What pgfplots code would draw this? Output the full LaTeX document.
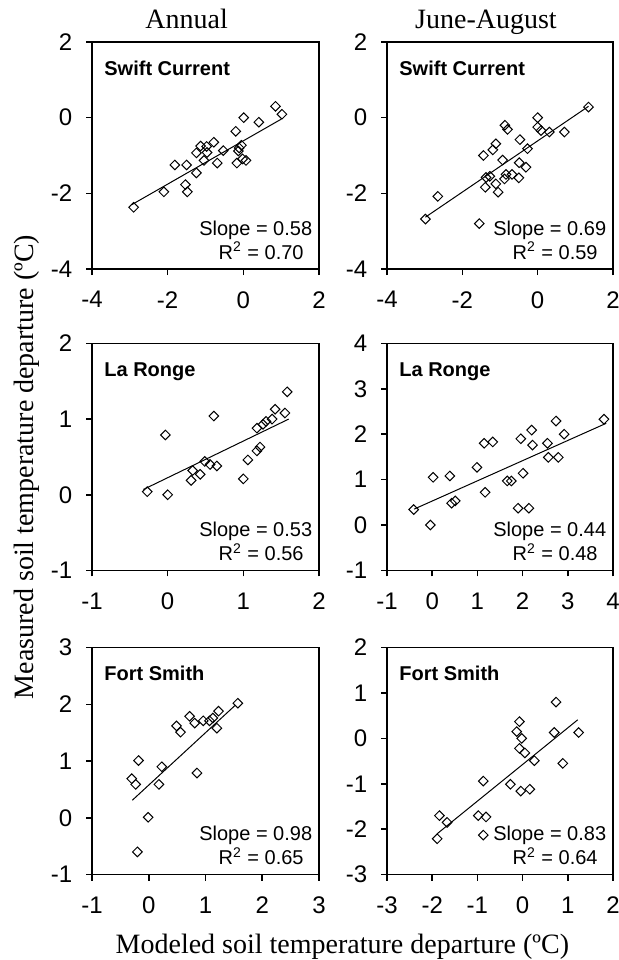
\documentclass[border=0pt]{standalone}
\usepackage{fontspec}
\setmainfont{Liberation Serif}
\newfontfamily\arial{Liberation Sans}
\usepackage{pgfplots}
\pgfplotsset{compat=1.18}
\pgfplotsset{
 panel/.style={scale only axis, height=113.5pt,
   axis line style={line width=0.8pt}, tick align=outside, major tick length=3pt,
   tick style={line width=0.8pt,black}, xtick pos=bottom, ytick pos=left,
   tick label style={font=\arial\fontsize{12}{14}\selectfont},
   /pgf/number format/assume math mode=true,
   yticklabel style={xshift=-3.3pt}, xticklabel style={yshift=-4.6pt}, clip=false},
 pts/.style={only marks, mark=square, mark size=1.7pt, mark options={rotate=45, line width=0.5pt, black, fill=none}},
 fitline/.style={no marks, line width=0.5pt, black},
}
\newcommand\site[1]{\node[inner sep=0pt, anchor=base west, xshift=6pt, yshift=-16.5pt, font=\arial\bfseries\fontsize{10}{12}\selectfont] at (rel axis cs:0,1) {#1};}
\newcommand\stats[2]{\node[inner sep=0pt, anchor=base east, xshift=-3.2pt, yshift=17pt, font=\arial\fontsize{10}{12}\selectfont] at (rel axis cs:1,0) {Slope = #1};
 \node[inner sep=0pt, anchor=base east, xshift=-7.5pt, yshift=5pt, font=\arial\fontsize{10}{12}\selectfont] at (rel axis cs:1,0) {R\textsuperscript{2} = #2};}
\begin{document}
\begin{tikzpicture}
\path[use as bounding box] (0,0) rectangle (309.5pt,-480pt);
% Row 1
\begin{axis}[panel, width=113.5pt, at={(46pt,-21pt)}, anchor=north west,
  xmin=-4, xmax=2, ymin=-4, ymax=2, xtick={-4,-2,0,2}, ytick={-4,-2,0,2}]
\addplot[pts] coordinates {(-2.90,-2.37) (-2.10,-1.96) (-1.81,-1.25) (-1.50,-1.25) (-1.53,-1.77) (-1.48,-1.96) (-1.24,-1.46) (-1.24,-0.93) (-1.13,-0.75) (-1.04,-1.13) (-0.96,-0.92) (-0.97,-0.76) (-0.78,-0.65) (-0.69,-1.20) (-0.53,-0.87) (-0.20,-0.36) (-0.17,-1.20) (-0.13,-0.88) (-0.11,-0.80) (-0.05,-0.73) (-0.02,-1.09) (0.07,-1.13) (0.01,0.00) (0.41,-0.12) (0.85,0.30) (1.02,0.09)};
\addplot[fitline] coordinates {(-2.95,-2.30) (1.00,-0.04)};
\site{Swift Current}
\stats{0.58}{0.70}
\end{axis}
\begin{axis}[panel, width=113pt, at={(193.5pt,-21pt)}, anchor=north west,
  xmin=-4, xmax=2, ymin=-4, ymax=2, xtick={-4,-2,0,2}, ytick={-4,-2,0,2}]
\addplot[pts] coordinates {(-2.98,-2.68) (-2.65,-2.08) (-1.55,-2.80) (-1.44,-1.00) (-1.37,-1.58) (-1.39,-1.84) (-1.19,-0.85) (-1.11,-0.69) (-1.27,-1.55) (-1.11,-1.75) (-1.05,-1.97) (-0.88,-1.62) (-0.84,-1.50) (-0.93,-1.12) (-0.87,-0.20) (-0.80,-0.31) (-0.68,-1.50) (-0.50,-1.59) (-0.49,-1.19) (-0.47,-0.58) (-0.31,-1.31) (-0.27,-0.82) (0.00,0.00) (0.00,-0.25) (0.09,-0.34) (0.31,-0.38) (0.71,-0.38) (1.35,0.28)};
\addplot[fitline] coordinates {(-2.98,-2.63) (1.35,0.30)};
\site{Swift Current}
\stats{0.69}{0.59}
\end{axis}
% Row 2
\begin{axis}[panel, width=113.5pt, at={(46pt,-171.7pt)}, anchor=north west,
  xmin=-1, xmax=2, ymin=-1, ymax=2, xtick={-1,0,1,2}, ytick={-1,0,1,2}]
\addplot[pts] coordinates {(-0.27,0.04) (-0.03,0.79) (0.00,0.00) (0.31,0.19) (0.33,0.32) (0.43,0.27) (0.49,0.44) (0.56,0.40) (0.65,0.38) (0.61,1.04) (1.00,0.21) (1.06,0.46) (1.18,0.58) (1.22,0.63) (1.18,0.88) (1.26,0.93) (1.30,0.97) (1.38,1.00) (1.42,1.13) (1.55,1.08) (1.58,1.36)};
\addplot[fitline] coordinates {(-0.32,0.07) (1.60,1.00)};
\site{La Ronge}
\stats{0.53}{0.56}
\end{axis}
\begin{axis}[panel, width=113pt, at={(193.5pt,-171.7pt)}, anchor=north west,
  xmin=-1, xmax=4, ymin=-1, ymax=4, xtick={-1,0,1,2,3,4}, ytick={-1,0,1,2,3,4}]
\addplot[pts] coordinates {(-0.41,0.34) (-0.04,0.00) (0.02,1.05) (0.39,1.08) (0.43,0.48) (0.51,0.53) (0.99,1.27) (1.17,0.72) (1.15,1.80) (1.34,1.83) (1.66,0.97) (1.75,0.97) (1.90,0.37) (2.14,0.37) (1.96,1.90) (2.01,1.14) (2.20,2.09) (2.22,1.76) (2.55,1.80) (2.57,1.49) (2.74,2.29) (2.79,1.49) (2.92,2.00) (3.80,2.33)};
\addplot[fitline] coordinates {(-0.40,0.35) (3.85,2.24)};
\site{La Ronge}
\stats{0.44}{0.48}
\end{axis}
% Row 3
\begin{axis}[panel, width=113.5pt, at={(46pt,-323.8pt)}, anchor=north west,
  xmin=-1, xmax=3, ymin=-1, ymax=3, xtick={-1,0,1,2,3}, ytick={-1,0,1,2,3}]
\addplot[pts] coordinates {(-0.30,0.69) (-0.23,0.59) (-0.18,1.01) (-0.20,-0.60) (-0.01,0.01) (0.18,0.59) (0.23,0.90) (0.49,1.62) (0.56,1.51) (0.72,1.79) (0.81,1.67) (0.85,0.79) (0.96,1.71) (1.07,1.71) (1.13,1.76) (1.20,1.58) (1.23,1.88) (1.57,2.02)};
\addplot[fitline] coordinates {(-0.29,0.31) (1.52,1.98)};
\site{Fort Smith}
\stats{0.98}{0.65}
\end{axis}
\begin{axis}[panel, width=113pt, at={(193.5pt,-323.8pt)}, anchor=north west,
  xmin=-3, xmax=2, ymin=-3, ymax=2, xtick={-3,-2,-1,0,1,2}, ytick={-3,-2,-1,0,1,2}]
\addplot[pts] coordinates {(-1.89,-2.21) (-1.84,-1.70) (-1.67,-1.85) (-0.98,-1.70) (-0.87,-0.94) (-0.87,-2.13) (-0.81,-1.73) (-0.27,-1.01) (-0.13,0.15) (-0.07,0.37) (-0.04,-1.16) (-0.02,0.00) (-0.07,-0.22) (0.05,-0.32) (0.16,-1.12) (0.26,-0.49) (0.70,0.13) (0.74,0.80) (0.89,-0.55) (1.24,0.13)};
\addplot[fitline] coordinates {(-1.89,-2.10) (1.22,0.41)};
\site{Fort Smith}
\stats{0.83}{0.64}
\end{axis}
% Titles and labels
\node[anchor=base, font=\fontsize{14}{16}\selectfont] at (93.3pt,-14pt) {Annual};
\node[anchor=base, font=\fontsize{14}{16}\selectfont] at (243pt,-14pt) {June-August};
\node[anchor=base, font=\fontsize{14}{16}\selectfont] at (171.2pt,-476.5pt) {Modeled soil temperature departure (ºC)};
\node[anchor=base, rotate=90, font=\fontsize{14}{16}\selectfont] at (16.5pt,-233.5pt) {Measured soil temperature departure (ºC)};
\end{tikzpicture}
\end{document}
